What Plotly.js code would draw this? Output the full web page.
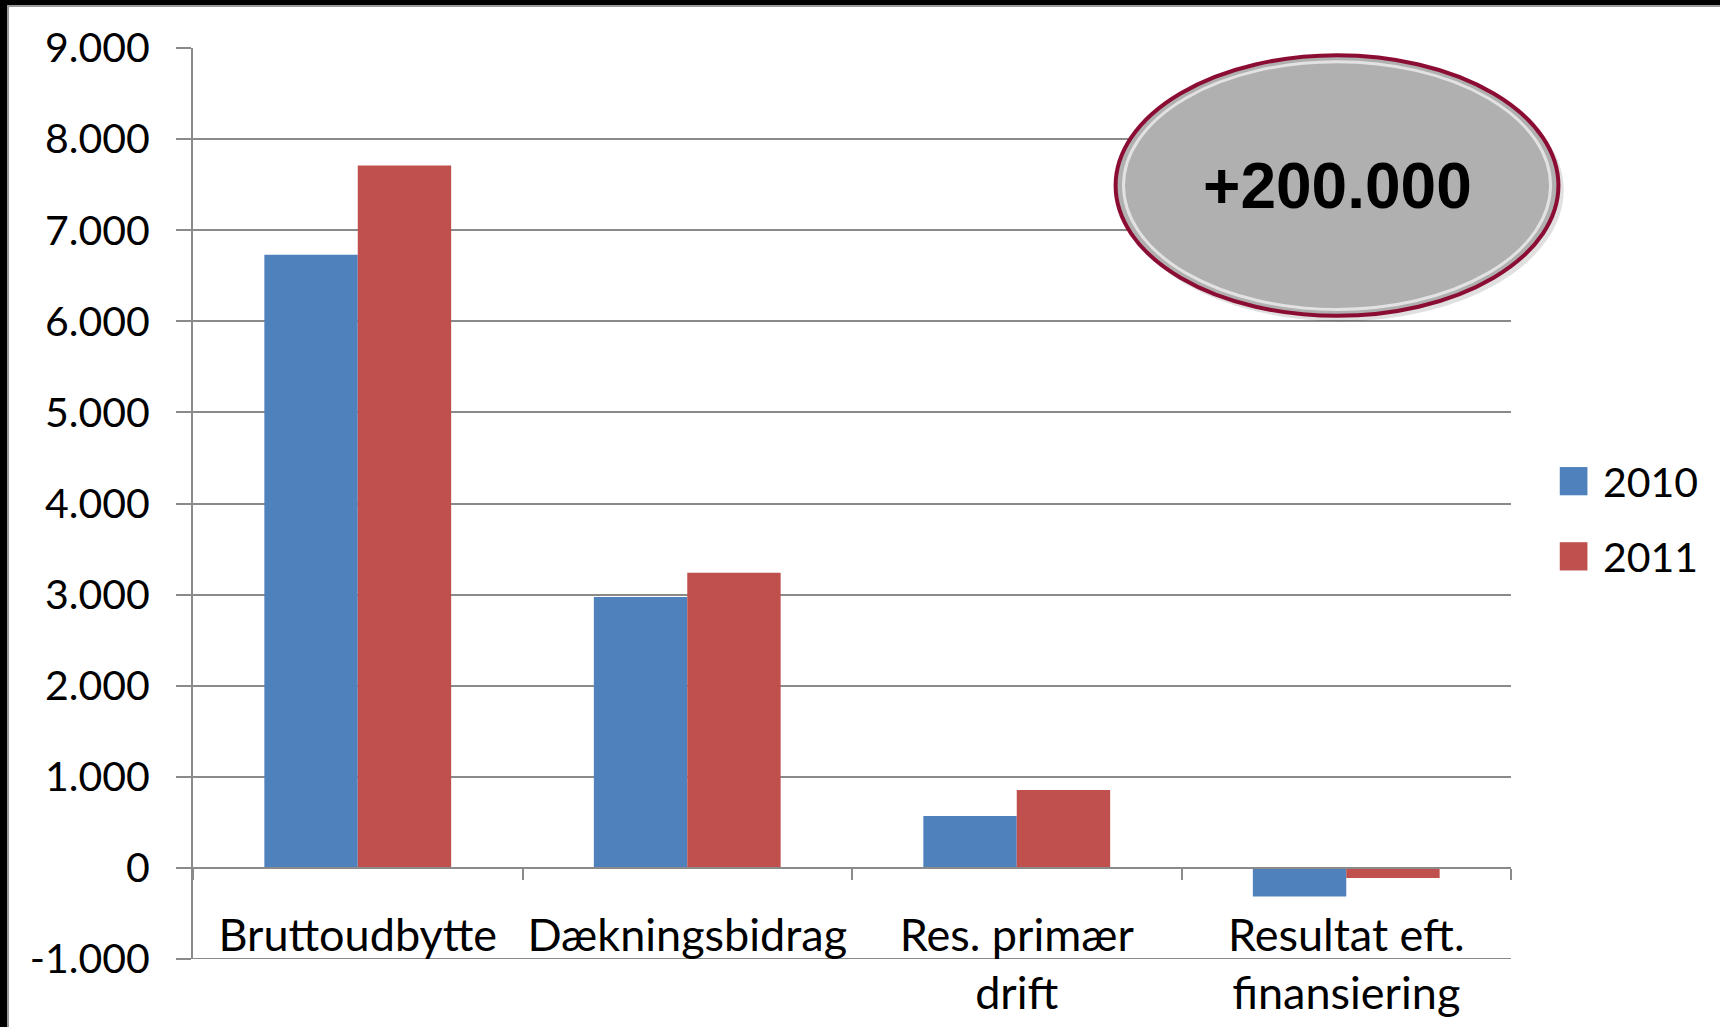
<!DOCTYPE html>
<html>
<head>
<meta charset="utf-8">
<script src="https://cdn.plot.ly/plotly-3.0.1.min.js"></script>
<style>
  html, body { margin: 0; padding: 0; background: #fff; }
  #wrap { position: relative; width: 1720px; height: 1027px; }
  #chart { width: 1720px; height: 1027px; }
  #frame { position: absolute; left: 0; top: 0; width: 1720px; height: 1027px; box-sizing: border-box;
           border-top: 5px solid #000; border-left: 7px solid #000; pointer-events: none; }
  #frame::after { content: ""; position: absolute; left: 0; top: 0; right: 0; bottom: 0;
           border-top: 2px solid #9a9a9a; border-left: 2px solid #9a9a9a; }
</style>
</head>
<body>
<div id="wrap">
  <div id="chart"></div>
  <div id="frame"></div>
</div>
<script>
// ---- data ----
const categories = ["Bruttoudbytte", "Dækningsbidrag", "Res. primær<br>drift", "Resultat eft.<br>finansiering"];
const seriesNames = ["2010", "2011"];
const values2010 = [6730, 2975, 570, -315];
const values2011 = [7710, 3240, 855, -110];
const yTickVals = [-1000, 0, 1000, 2000, 3000, 4000, 5000, 6000, 7000, 8000, 9000];
const yTickText = ["-1.000", "0", "1.000", "2.000", "3.000", "4.000", "5.000", "6.000", "7.000", "8.000", "9.000"];
const calloutText = "+200.000";
const seriesColors = ["#4F81BD", "#C0504D"];

const font = "Lato, 'Open Sans', sans-serif";
const grid = "#8a8a8a";

const traces = [
  { type: "bar", name: seriesNames[0], x: categories, y: values2010,
    marker: { color: seriesColors[0] }, showlegend: false },
  { type: "bar", name: seriesNames[1], x: categories, y: values2011,
    marker: { color: seriesColors[1] }, showlegend: false }
];

// custom legend (large squares like the original)
const legendShapes = [];
const legendAnn = [];
const legY = [0.5245, 0.442];
seriesNames.forEach((n, i) => {
  legendShapes.push({ type: "rect", xref: "paper", yref: "paper",
    x0: 1.037, x1: 1.058, y0: legY[i] - 0.0155, y1: legY[i] + 0.0155,
    fillcolor: seriesColors[i], line: { width: 0 } });
  legendAnn.push({ xref: "paper", yref: "paper", x: 1.068, y: legY[i], xanchor: "left", yanchor: "middle",
    text: n, showarrow: false, font: { family: font, size: 41, color: "#000" } });
});

// bottom gridline at the lowest tick (Plotly omits the edge gridline)
const bottomGrid = { type: "line", xref: "paper", yref: "y", x0: 0, x1: 1,
  y0: yTickVals[0], y1: yTickVals[0], line: { color: grid, width: 2 }, layer: "below" };

const ellipseShapes = [
  { type: "circle", xref: "paper", yref: "paper", x0: 0.702, x1: 1.040, y0: 0.700, y1: 0.988,
    fillcolor: "rgba(0,0,0,0.12)", line: { width: 0 }, layer: "above" },
  { type: "circle", xref: "paper", yref: "paper", x0: 0.700, x1: 1.036, y0: 0.706, y1: 0.992,
    fillcolor: "#b0b0b0", line: { color: "#8c0d34", width: 4 }, layer: "above" },
  { type: "circle", xref: "paper", yref: "paper", x0: 0.706, x1: 1.030, y0: 0.713, y1: 0.985,
    fillcolor: "rgba(0,0,0,0)", line: { color: "rgba(235,235,235,0.85)", width: 3 }, layer: "above" }
];

const layout = {
  width: 1720, height: 1027,
  margin: { l: 193, r: 209, t: 48, b: 68 },
  paper_bgcolor: "#fff", plot_bgcolor: "#fff",
  font: { family: font, size: 41, color: "#000" },
  barmode: "group", bargap: 0.433, bargroupgap: 0,
  showlegend: false,
  xaxis: {
    type: "category",
    anchor: "free", position: 0.1,
    showline: true, linecolor: grid, linewidth: 2,
    ticks: "outside", tickson: "boundaries", ticklen: 11, tickwidth: 2, tickcolor: grid,
    showgrid: false,
    tickangle: 0,
    tickfont: { family: font, size: 45, color: "#000" },
    ticklabelstandoff: 28,
    fixedrange: true
  },
  yaxis: {
    range: [-1000, 9000],
    tickvals: yTickVals, ticktext: yTickText,
    showgrid: true, gridcolor: grid, gridwidth: 2,
    zeroline: false,
    showline: true, linecolor: grid, linewidth: 2,
    ticks: "outside", ticklen: 15, tickwidth: 2, tickcolor: grid,
    ticklabelstandoff: 18,
    tickfont: { family: font, size: 41, color: "#000" },
    fixedrange: true
  },
  shapes: [bottomGrid].concat(ellipseShapes, legendShapes),
  annotations: [
    { xref: "paper", yref: "paper", x: 0.868, y: 0.849, xanchor: "center", yanchor: "middle",
      text: "<b>" + calloutText + "</b>", showarrow: false,
      font: { family: "'Liberation Sans', Arial, sans-serif", size: 64, color: "#000" } }
  ].concat(legendAnn)
};

Plotly.newPlot("chart", traces, layout, { displayModeBar: false, staticPlot: true });
</script>
</body>
</html>
